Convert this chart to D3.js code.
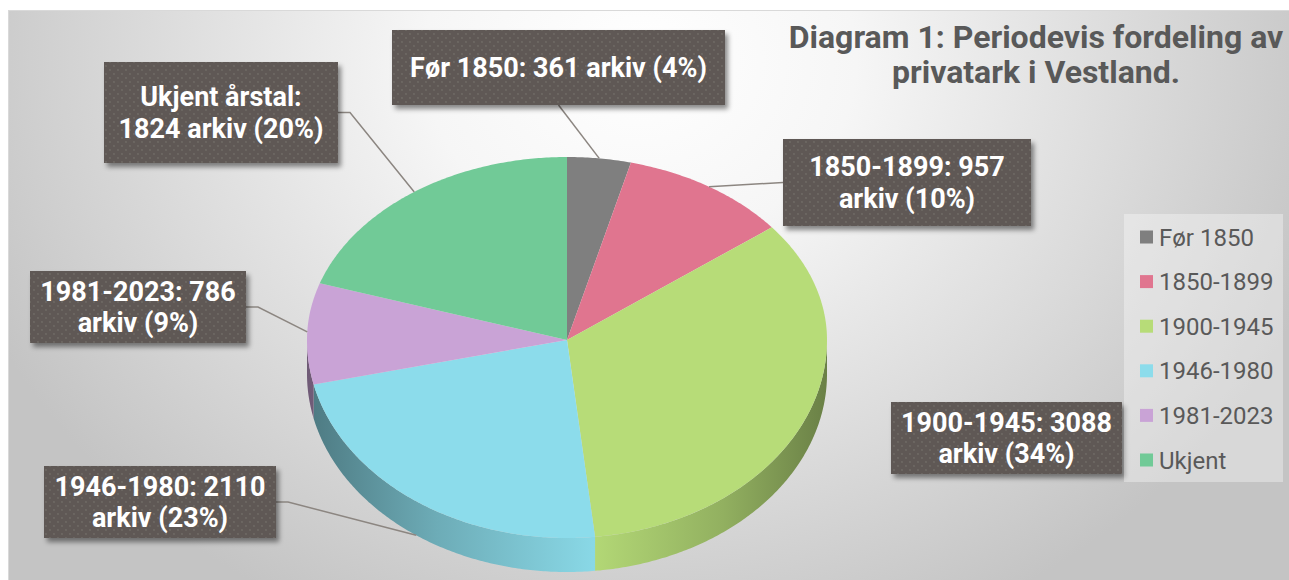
<!DOCTYPE html>
<html>
<head>
<meta charset="utf-8">
<script src="https://cdn.jsdelivr.net/npm/d3@7"></script>
<style>
  body { margin: 0; background: #ffffff; }
  svg { display: block; font-family: Roboto, "Open Sans", sans-serif; }
</style>
</head>
<body>
<div id="chart"></div>
<script>
// DATA
const categories = ["Før 1850", "1850-1899", "1900-1945", "1946-1980", "1981-2023", "Ukjent"];
const values = [361, 957, 3088, 2110, 786, 1824];
const labelNames = ["Før 1850", "1850-1899", "1900-1945", "1946-1980", "1981-2023", "Ukjent årstal"];
const titleLines = ["Diagram 1: Periodevis fordeling av", "privatark i Vestland."];

const COLORS = ["#7f7f7f", "#e0758f", "#b7dc78", "#8cdceb", "#c9a3d6", "#71ca97"];

const WIDTH = 1289;
const HEIGHT = 580;

// pie geometry (3d look)
const PIE = { cx: 567, cy: 340, rx: 260, ryTop: 183, ryBottom: 198, depth: 34 };

// label boxes, placed by hand like in the original
const LABEL_LAYOUT = [
  { x: 392, y: 30, w: 333, h: 75, leader: "bottom" },
  { x: 783, y: 139, w: 248, h: 87, leader: "left" },
  { x: 891, y: 402, w: 231, h: 72, leader: "none" },
  { x: 44, y: 466, w: 232, h: 72, leader: "right" },
  { x: 30, y: 271, w: 216, h: 72, leader: "right" },
  { x: 104, y: 62, w: 234, h: 101, leader: "right" }
];

const svg = d3
  .select("#chart")
  .append("svg")
  .attr("width", WIDTH)
  .attr("height", HEIGHT);

const defs = svg.append("defs");

// BACKGROUND
const bg = defs
  .append("radialGradient")
  .attr("id", "bg")
  .attr("gradientUnits", "userSpaceOnUse")
  .attr("cx", 0)
  .attr("cy", 0)
  .attr("r", 1)
  .attr("gradientTransform", "translate(640, 60) scale(720, 620)");
bg.append("stop").attr("offset", 0).attr("stop-color", "#ffffff");
bg.append("stop").attr("offset", 0.3).attr("stop-color", "#f6f6f6");
bg.append("stop").attr("offset", 1).attr("stop-color", "#c4c4c4");

svg
  .append("rect")
  .attr("x", 8.5)
  .attr("y", 10.5)
  .attr("width", WIDTH)
  .attr("height", HEIGHT)
  .attr("fill", "url(#bg)")
  .attr("stroke", "#d9d9d9");

// pattern + shadow for the label boxes
const pattern = defs
  .append("pattern")
  .attr("id", "dots")
  .attr("patternUnits", "userSpaceOnUse")
  .attr("width", 8)
  .attr("height", 8);
pattern.append("rect").attr("width", 8).attr("height", 8).attr("fill", "#5f5955");
pattern.append("circle").attr("cx", 2).attr("cy", 2).attr("r", 0.9).attr("fill", "#716b67");
pattern.append("circle").attr("cx", 6).attr("cy", 6).attr("r", 0.9).attr("fill", "#716b67");

const shadow = defs
  .append("filter")
  .attr("id", "shadow")
  .attr("x", "-10%")
  .attr("y", "-10%")
  .attr("width", "130%")
  .attr("height", "140%");
shadow
  .append("feDropShadow")
  .attr("dx", 3)
  .attr("dy", 4)
  .attr("stdDeviation", 2.5)
  .attr("flood-color", "#000")
  .attr("flood-opacity", 0.45);

// PIE
const pie = d3.pie().sort(null).value((d) => d.value);
const data = categories.map((c, i) => ({ name: c, value: values[i], label: labelNames[i], color: COLORS[i] }));
const arcs = pie(data);
const total = d3.sum(values);

function pt(t, dy = 0) {
  const ry = Math.cos(t) > 0 ? PIE.ryTop : PIE.ryBottom;
  return [PIE.cx + PIE.rx * Math.sin(t), PIE.cy - ry * Math.cos(t) + dy];
}

function edge(a, b, dy = 0) {
  const n = Math.max(2, Math.ceil(Math.abs(b - a) / 0.01));
  return d3.range(n + 1).map((i) => pt(a + ((b - a) * i) / n, dy));
}

const line = d3.line();
const chart = svg.append("g");

// side walls (front half only)
arcs.forEach((d, i) => {
  const a = Math.max(d.startAngle, Math.PI / 2);
  const b = Math.min(d.endAngle, (Math.PI * 3) / 2);
  if (b <= a) return;

  const base = d3.color(d.data.color);
  const grad = defs
    .append("linearGradient")
    .attr("id", `side${i}`)
    .attr("gradientUnits", "userSpaceOnUse")
    .attr("x1", PIE.cx - PIE.rx)
    .attr("x2", PIE.cx + PIE.rx)
    .attr("y1", 0)
    .attr("y2", 0);
  [[0, 0.55], [0.25, 0.78], [0.55, 0.98], [0.8, 0.8], [1, 0.58]].forEach(([o, k]) => {
    grad
      .append("stop")
      .attr("offset", o)
      .attr("stop-color", d3.interpolateRgb("#000", base)(k));
  });

  const pts = edge(a, b).concat(edge(b, a, PIE.depth));
  chart
    .append("path")
    .attr("d", line(pts) + "Z")
    .attr("fill", `url(#side${i})`);
});

// top faces
chart
  .selectAll(".slice")
  .data(arcs)
  .join("path")
  .attr("class", "slice")
  .attr("d", (d) => line([[PIE.cx, PIE.cy]].concat(edge(d.startAngle, d.endAngle))) + "Z")
  .attr("fill", (d) => d.data.color);

// LEADER LINES
arcs.forEach((d, i) => {
  const box = LABEL_LAYOUT[i];
  if (box.leader === "none") return;
  const mid = (d.startAngle + d.endAngle) / 2;
  const front = mid > Math.PI / 2 && mid < (Math.PI * 3) / 2;
  const end = pt(mid, front ? PIE.depth : 0);
  let pts;
  if (box.leader === "bottom") {
    pts = [[box.x + box.w / 2, box.y + box.h], end];
  } else if (box.leader === "left") {
    pts = [[box.x, box.y + box.h / 2], end];
  } else {
    const sy = box.y + box.h / 2;
    pts = [[box.x + box.w, sy], [box.x + box.w + 12, sy], end];
  }
  svg
    .append("path")
    .attr("d", line(pts))
    .attr("fill", "none")
    .attr("stroke", "#8c8681")
    .attr("stroke-width", 1.5);
});

// DATA LABELS
const labels = svg
  .selectAll(".label")
  .data(arcs)
  .join("g")
  .attr("class", "label");

labels
  .append("rect")
  .attr("x", (d, i) => LABEL_LAYOUT[i].x)
  .attr("y", (d, i) => LABEL_LAYOUT[i].y)
  .attr("width", (d, i) => LABEL_LAYOUT[i].w)
  .attr("height", (d, i) => LABEL_LAYOUT[i].h)
  .attr("fill", "url(#dots)")
  .attr("filter", "url(#shadow)");

labels.each(function (d, i) {
  const box = LABEL_LAYOUT[i];
  const pct = Math.round((d.value / total) * 100);
  const words = `${d.data.label}: ${d.value} arkiv (${pct}%)`.split(/\s+/);
  const text = d3
    .select(this)
    .append("text")
    .attr("text-anchor", "middle")
    .attr("font-size", "27px")
    .attr("font-weight", "bold")
    .attr("fill", "#ffffff");

  // wrap words into lines that fit the box
  const lines = [];
  let cur = [];
  const probe = text.append("tspan");
  words.forEach((w) => {
    cur.push(w);
    probe.text(cur.join(" "));
    if (probe.node().getComputedTextLength() > box.w - 14 && cur.length > 1) {
      cur.pop();
      lines.push(cur.join(" "));
      cur = [w];
    }
  });
  lines.push(cur.join(" "));
  probe.remove();

  const lh = 31.5;
  const first = box.y + box.h / 2 + 9.6 - ((lines.length - 1) * lh) / 2;
  lines.forEach((l, k) => {
    text
      .append("tspan")
      .attr("x", box.x + box.w / 2)
      .attr("y", first + k * lh)
      .text(l);
  });
});

// TITLE
svg
  .append("text")
  .attr("text-anchor", "middle")
  .attr("font-size", "32px")
  .attr("font-weight", "bold")
  .attr("fill", "#595959")
  .selectAll("tspan")
  .data(titleLines)
  .join("tspan")
  .attr("x", 1036)
  .attr("y", (d, i) => 48 + i * 35)
  .text((d) => d);

// LEGEND
const legend = svg.append("g");
legend
  .append("rect")
  .attr("x", 1124)
  .attr("y", 214)
  .attr("width", 159)
  .attr("height", 268)
  .attr("fill", "#ffffff")
  .attr("fill-opacity", 0.35);

const legendY = d3.scalePoint().domain(categories).range([237, 460]);

const items = legend
  .selectAll(".item")
  .data(data)
  .join("g")
  .attr("class", "item")
  .attr("transform", (d) => `translate(1140, ${legendY(d.name)})`);

items
  .append("rect")
  .attr("x", 0)
  .attr("y", -6.5)
  .attr("width", 13)
  .attr("height", 13)
  .attr("fill", (d) => d.color);

items
  .append("text")
  .attr("x", 19)
  .attr("y", 8.5)
  .attr("font-size", "24px")
  .attr("fill", "#595959")
  .text((d) => d.name);
</script>
</body>
</html>
